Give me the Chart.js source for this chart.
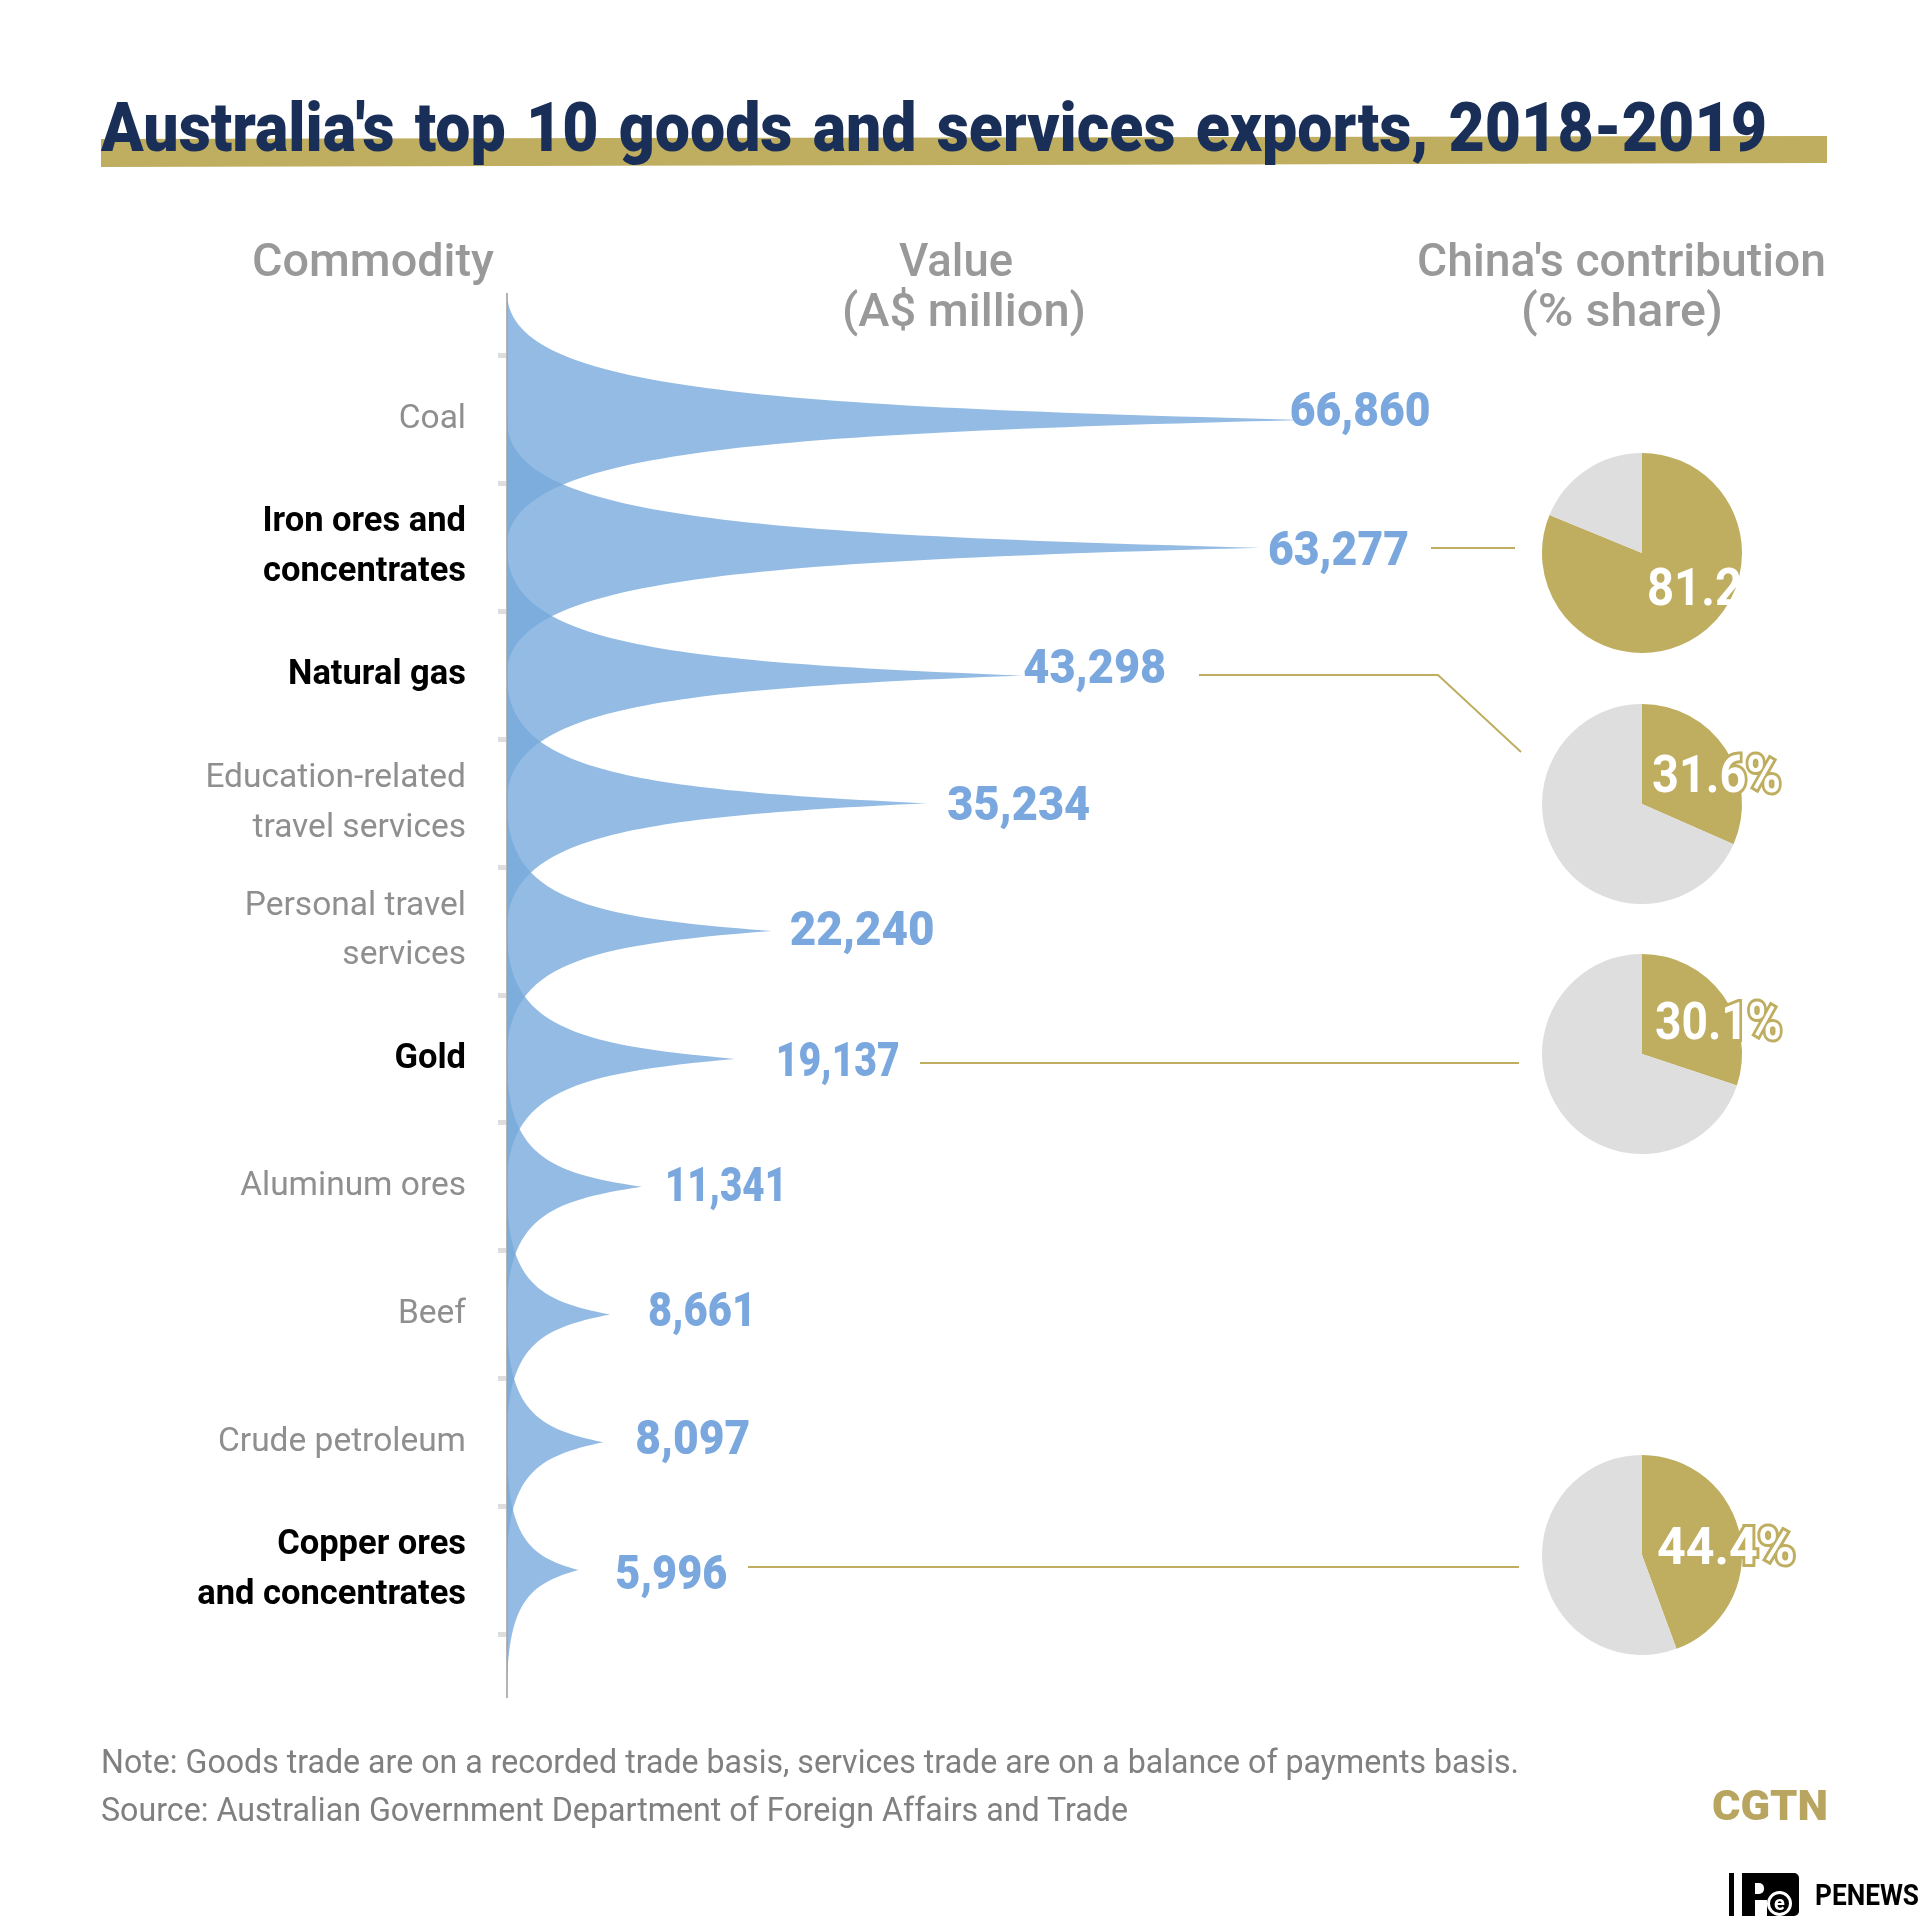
<!DOCTYPE html>
<html>
<head>
<meta charset="utf-8">
<title>Australia's top 10 goods and services exports, 2018-2019</title>
<script src="https://cdn.jsdelivr.net/npm/chart.js@4/dist/chart.umd.min.js"></script>
<style>
  html, body { margin: 0; padding: 0; background: #fff; overflow: hidden; }
  #page { position: relative; width: 1921px; height: 1921px; overflow: hidden; font-family: Roboto, sans-serif; }
  #page canvas { position: absolute; }
  .txt { position: absolute; white-space: nowrap; transform-origin: left center; }
  .head { color: #999; font-size: 46px; font-weight: 500; line-height: 50px; }
  .note { color: #808080; font-size: 33px; line-height: 40px; }
  #band { position: absolute; left: 101px; top: 136px; width: 1726px; height: 31px; background: #bfad60;
    clip-path: polygon(0 3px, 100% 0, 100% 27px, 0 31px); }
  .blk { position: absolute; background: #000; }
  .wht { position: absolute; background: #fff; }
</style>
</head>
<body>
<div id="page">
  <canvas id="mainChart" width="1921" height="1921" style="left:0;top:0"></canvas>
  <div id="band"></div>
  <div class="txt" data-w="1666" style="left:101px;top:88px;line-height:80px;font-size:68px;font-weight:900;word-spacing:5px;color:#1a2f57">Australia's top 10 goods and services exports, 2018-2019</div>
  <div class="txt head" data-w="242" style="left:252px;top:235px">Commodity</div>
  <div class="txt head" data-w="114" style="left:899px;top:235px">Value</div>
  <div class="txt head" data-w="244" style="left:842px;top:285px">(A$ million)</div>
  <div class="txt head" data-w="409" style="left:1417px;top:235px">China's contribution</div>
  <div class="txt head" data-w="202" style="left:1521px;top:285px">(% share)</div>
  <div class="txt note" data-w="1418" style="left:101px;top:1742px">Note: Goods trade are on a recorded trade basis, services trade are on a balance of payments basis.</div>
  <div class="txt note" data-w="1027" style="left:101px;top:1790px">Source: Australian Government Department of Foreign Affairs and Trade</div>
  <div class="txt" data-w="116" style="left:1712px;top:1780px;line-height:52px;font-size:42px;font-weight:900;color:#b8a55f">CGTN</div>
  <div class="blk" style="left:1729px;top:1873px;width:5px;height:43px"></div>
  <div class="blk" style="left:1742px;top:1873px;width:57px;height:43px;border-radius:0 5px 5px 0"></div>
  <div class="wht" style="left:1755px;top:1883px;width:9px;height:11px;border-radius:0 5px 5px 0"></div>
  <div class="wht" style="left:1755px;top:1900px;width:12px;height:16px"></div>
  <div class="txt" style="left:1767px;top:1891px;width:25px;height:25px;line-height:19px;border:3px solid #fff;border-radius:50%;box-sizing:border-box;color:#fff;font-size:20px;font-weight:700;text-align:center">e</div>
  <div class="txt" data-w="104" style="left:1815px;top:1877px;line-height:36px;font-size:30px;font-weight:700;color:#000">PENEWS</div>
  <canvas id="pie0" width="380" height="220"></canvas>
  <canvas id="pie1" width="380" height="220"></canvas>
  <canvas id="pie2" width="380" height="220"></canvas>
  <canvas id="pie3" width="380" height="220"></canvas>
</div>
<script>
// Datos
const categories = ['Coal', ['Iron ores and', 'concentrates'], 'Natural gas', ['Education-related', 'travel services'],
  ['Personal travel', 'services'], 'Gold', 'Aluminum ores', 'Beef', 'Crude petroleum', ['Copper ores', 'and concentrates']];
const exportValues = [66860, 63277, 43298, 35234, 22240, 19137, 11341, 8661, 8097, 5996];
const boldCategories = ['Iron ores and,concentrates', 'Natural gas', 'Gold', 'Copper ores,and concentrates'];

const shareLabels = ['81.2%', '31.6%', '30.1%', '44.4%'];
const shareValues = [81.2, 31.6, 30.1, 44.4];
const restValues = [18.8, 68.4, 69.9, 55.6];

const BLUE = 'rgba(120,170,220,0.8)';
const BLUE_TEXT = '#7aa8de';
const GOLD = '#bfad60';
const GREY = '#dedede';

// Ajustes de posicion, a mano como en el original
const valueNudge = [[-13, -6], [8, 5], [1, -5], [21, 4], [18, 2], [41, 5], [23, 2], [38, -1], [32, -1], [37, 7]];
const valueWidths = [141, 141, 143, 143, 145, 124, 122, 108, 115, 112];
const leaderLines = [
  [[1431, 548], [1515, 548]],
  [[1199, 675], [1438, 675], [1521, 752]],
  [[920, 1063], [1519, 1063]],
  [[748, 1567], [1519, 1567]]
];
const pieCentres = [[1642, 552.5], [1642, 803.5], [1642, 1054], [1642, 1555]];
const pieTextPos = [[5, 39], [10, -25], [13, -28], [15, -4]];
const pieTextWidths = [130, 129, 127, 138];
const pieOutline = [false, true, true, true];

document.querySelectorAll('.txt[data-w]').forEach(function (el) {
  const w = el.getBoundingClientRect().width;
  el.style.transform = `scaleX(${el.dataset.w / w})`;
});

// Dibuja las puntas en vez de las barras, usando los elementos que calcula Chart.js
const spikePlugin = {
  id: 'spikes',
  beforeDatasetDraw(chart, args) {
    const { ctx, scales } = chart;
    const halfH = Math.abs(scales.y.getPixelForValue(1) - scales.y.getPixelForValue(0));
    const x0 = scales.x.getPixelForValue(0);

    // eje mas largo que el area del grafico
    ctx.save();
    ctx.strokeStyle = '#b5b5b5';
    ctx.lineWidth = 2;
    ctx.beginPath();
    ctx.moveTo(x0, chart.chartArea.top - 63);
    ctx.lineTo(x0, chart.chartArea.bottom + 64);
    ctx.stroke();

    ctx.fillStyle = chart.data.datasets[0].backgroundColor;
    args.meta.data.forEach(function (bar) {
      const len = bar.x - x0;
      ctx.beginPath();
      ctx.moveTo(x0, bar.y - halfH);
      ctx.bezierCurveTo(x0, bar.y - 0.25 * halfH, x0 + 0.3 * len, bar.y - 0.11 * halfH, bar.x, bar.y);
      ctx.bezierCurveTo(x0 + 0.3 * len, bar.y + 0.11 * halfH, x0, bar.y + 0.25 * halfH, x0, bar.y + halfH);
      ctx.closePath();
      ctx.fill();
    });
    ctx.restore();
    return false;
  },
  afterDatasetsDraw(chart) {
    const { ctx } = chart;
    const bars = chart.getDatasetMeta(0).data;
    ctx.save();
    ctx.font = '900 49px Roboto';
    ctx.fillStyle = BLUE_TEXT;
    ctx.textBaseline = 'middle';
    bars.forEach(function (bar, i) {
      const txt = exportValues[i].toLocaleString('en-US');
      ctx.fillText(txt, bar.x + valueNudge[i][0], bar.y + valueNudge[i][1], valueWidths[i]);
    });

    ctx.strokeStyle = GOLD;
    ctx.lineWidth = 2;
    leaderLines.forEach(function (line) {
      ctx.beginPath();
      line.forEach(function (p, i) {
        if (i === 0) ctx.moveTo(p[0], p[1]);
        else ctx.lineTo(p[0], p[1]);
      });
      ctx.stroke();
    });
    ctx.restore();
  }
};

new Chart(document.getElementById('mainChart'), {
  type: 'bar',
  data: {
    labels: categories,
    datasets: [{ data: exportValues, backgroundColor: BLUE, borderWidth: 0 }]
  },
  options: {
    indexAxis: 'y',
    responsive: false,
    animation: false,
    layout: { padding: { left: 0, right: 581, top: 356, bottom: 287 } },
    plugins: { legend: { display: false }, tooltip: { enabled: false } },
    scales: {
      x: { display: false, min: 0, max: 70000 },
      y: {
        afterFit(scale) { scale.width = 507; },
        border: { display: false },
        grid: { offset: true, drawOnChartArea: false, drawTicks: true, tickLength: 9, tickWidth: 5, tickColor: GREY },
        ticks: {
          autoSkip: false,
          padding: 32,
          color(c) { return boldCategories.includes(String(categories[c.index])) ? '#000' : '#8f8f8f'; },
          font(c) {
            const bold = boldCategories.includes(String(categories[c.index]));
            return bold
              ? { family: 'Roboto', size: 34.5, weight: '700', lineHeight: 1.45 }
              : { family: 'Roboto', size: 33.5, weight: '400', lineHeight: 1.49 };
          }
        }
      }
    }
  },
  plugins: [spikePlugin]
});

// Un pastel por cada cifra de China
shareValues.forEach(function (share, i) {
  const canvas = document.getElementById('pie' + i);
  canvas.style.left = (pieCentres[i][0] - 110) + 'px';
  canvas.style.top = (pieCentres[i][1] - 110) + 'px';
  new Chart(canvas, {
    type: 'pie',
    data: {
      labels: ['China', 'Other'],
      datasets: [{ data: [share, restValues[i]], backgroundColor: [GOLD, GREY], borderWidth: 0 }]
    },
    options: {
      responsive: false,
      animation: false,
      layout: { padding: { left: 10, right: 170, top: 10, bottom: 10 } },
      plugins: { legend: { display: false }, tooltip: { enabled: false } }
    },
    plugins: [{
      id: 'shareLabel',
      afterDraw(chart) {
        const { ctx } = chart;
        const x = 110 + pieTextPos[i][0];
        const y = 110 + pieTextPos[i][1];
        ctx.save();
        ctx.font = '700 51px Roboto';
        ctx.textBaseline = 'middle';
        if (pieOutline[i]) {
          ctx.strokeStyle = GOLD;
          ctx.lineWidth = 6;
          ctx.lineJoin = 'miter';
          ctx.strokeText(shareLabels[i], x, y, pieTextWidths[i]);
        }
        ctx.fillStyle = '#fff';
        ctx.fillText(shareLabels[i], x, y, pieTextWidths[i]);
        ctx.restore();
      }
    }]
  });
});
</script>
</body>
</html>
